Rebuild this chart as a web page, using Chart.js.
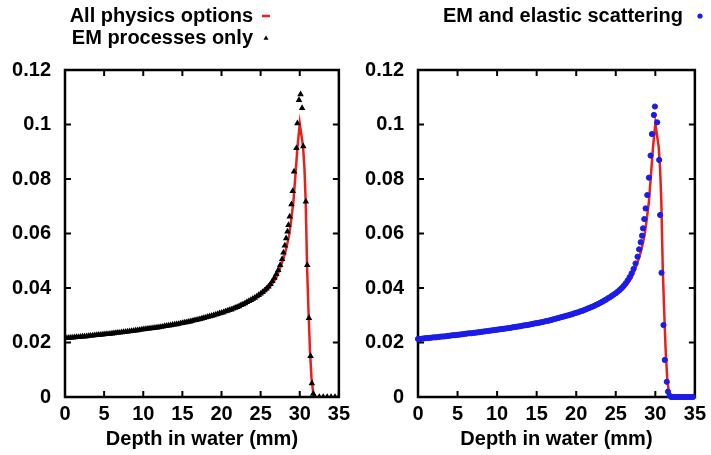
<!DOCTYPE html>
<html>
<head>
<meta charset="utf-8">
<script src="https://cdn.jsdelivr.net/npm/chart.js@4.4.1/dist/chart.umd.min.js"></script>
<style>
  body { margin: 0; background: #fff; }
  canvas { position: absolute; top: 0; }
</style>
</head>
<body>
<canvas id="leftChart" width="355" height="455" style="left:0"></canvas>
<canvas id="rightChart" width="356" height="455" style="left:355px"></canvas>
<script>
// tick labels
const xTicks = [0, 5, 10, 15, 20, 25, 30, 35];
const yTicks = [0, 0.02, 0.04, 0.06, 0.08, 0.1, 0.12];

// All physics options (red line, both panels)
const allDepth = [0, 2, 4, 6, 8, 10, 12, 14, 16, 18, 20, 21, 22, 23, 24, 25, 25.5, 26, 26.5, 27, 27.5,
  28, 28.3, 28.64, 28.9, 29.19, 29.48, 29.7, 30.0, 30.42, 30.6, 30.76, 30.93, 31.1,
  31.3, 31.5, 31.7, 31.85, 32];
const allDose = [0.0216, 0.0221, 0.0227, 0.0233, 0.0240, 0.0248, 0.0256, 0.0266, 0.0277, 0.0291, 0.0308,
  0.0318, 0.0329, 0.0342, 0.0357, 0.0375, 0.0386, 0.0399, 0.0416, 0.0437, 0.0474,
  0.0515, 0.0548, 0.0594, 0.0648, 0.0717, 0.0827, 0.0913, 0.1003, 0.0920, 0.0840, 0.0717, 0.0484, 0.0330,
  0.0175, 0.0070, 0.0020, 0.0003, 0];

// EM processes only (black triangles, left panel)
const emDepth = [0, 0.25, 0.5, 0.75, 1, 1.25, 1.5, 1.75, 2, 2.25, 2.5, 2.75, 3, 3.25, 3.5, 3.75,
  4, 4.25, 4.5, 4.75, 5, 5.25, 5.5, 5.75, 6, 6.25, 6.5, 6.75, 7, 7.25, 7.5, 7.75,
  8, 8.25, 8.5, 8.75, 9, 9.25, 9.5, 9.75, 10, 10.25, 10.5, 10.75, 11, 11.25, 11.5, 11.75,
  12, 12.25, 12.5, 12.75, 13, 13.25, 13.5, 13.75, 14, 14.25, 14.5, 14.75, 15, 15.25, 15.5, 15.75,
  16, 16.25, 16.5, 16.75, 17, 17.25, 17.5, 17.75, 18, 18.25, 18.5, 18.75, 19, 19.25, 19.5, 19.75,
  20, 20.25, 20.5, 20.75, 21, 21.25, 21.5, 21.75, 22, 22.25, 22.5, 22.75, 23, 23.25, 23.5, 23.75,
  24, 24.25, 24.5, 24.75, 25, 25.25, 25.5, 25.75, 26, 26.25, 26.5, 26.75,
  27, 27.25, 27.5, 27.75, 27.92, 28.09, 28.26, 28.43, 28.56, 28.72, 28.94, 29.1, 29.27, 29.57, 29.7,
  29.9, 30.1, 30.3, 30.45, 30.78, 30.96, 31.17, 31.38, 31.55, 31.72, 31.9, 32.5, 33, 33.5, 34, 34.5, 35];
const emDose = [0.0216, 0.0216, 0.0217, 0.0218, 0.0218, 0.0219, 0.0220, 0.0220, 0.0221, 0.0222, 0.0222, 0.0223,
  0.0224, 0.0225, 0.0225, 0.0226, 0.0227, 0.0228, 0.0228, 0.0229, 0.0230, 0.0231, 0.0231, 0.0232,
  0.0233, 0.0234, 0.0235, 0.0236, 0.0236, 0.0237, 0.0238, 0.0239, 0.0240, 0.0241, 0.0242, 0.0243,
  0.0244, 0.0245, 0.0246, 0.0247, 0.0248, 0.0249, 0.0250, 0.0251, 0.0252, 0.0253, 0.0254, 0.0255,
  0.0256, 0.0257, 0.0258, 0.0260, 0.0261, 0.0262, 0.0263, 0.0265, 0.0266, 0.0267, 0.0268, 0.0270,
  0.0271, 0.0273, 0.0274, 0.0276, 0.0277, 0.0279, 0.0281, 0.0282, 0.0284, 0.0286, 0.0288, 0.0290,
  0.0292, 0.0294, 0.0296, 0.0298, 0.0300, 0.0302, 0.0304, 0.0307, 0.0309, 0.0311, 0.0314, 0.0316,
  0.0319, 0.0321, 0.0324, 0.0327, 0.0330, 0.0333, 0.0337, 0.0340, 0.0344, 0.0348, 0.0352, 0.0356,
  0.0360, 0.0364, 0.0369, 0.0374, 0.0379, 0.0385, 0.0391, 0.0398, 0.0405, 0.0414, 0.0425, 0.0437,
  0.0451, 0.0466, 0.0484, 0.0506, 0.0530, 0.0556, 0.0582, 0.0607, 0.0631, 0.0662, 0.0707, 0.0756,
  0.0827, 0.0913, 0.1004, 0.1090, 0.1111, 0.1060, 0.0920, 0.0717, 0.0484, 0.0290, 0.0150, 0.0050,
  0.0012, 0, 0, 0, 0, 0, 0, 0];

// EM and elastic scattering (blue dots, right panel)
const elDepth = [0, 0.25, 0.5, 0.75, 1, 1.25, 1.5, 1.75, 2, 2.25, 2.5, 2.75, 3, 3.25, 3.5, 3.75,
  4, 4.25, 4.5, 4.75, 5, 5.25, 5.5, 5.75, 6, 6.25, 6.5, 6.75, 7, 7.25, 7.5, 7.75,
  8, 8.25, 8.5, 8.75, 9, 9.25, 9.5, 9.75, 10, 10.25, 10.5, 10.75, 11, 11.25, 11.5, 11.75,
  12, 12.25, 12.5, 12.75, 13, 13.25, 13.5, 13.75, 14, 14.25, 14.5, 14.75, 15, 15.25, 15.5, 15.75,
  16, 16.25, 16.5, 16.75, 17, 17.25, 17.5, 17.75, 18, 18.25, 18.5, 18.75, 19, 19.25, 19.5, 19.75,
  20, 20.25, 20.5, 20.75, 21, 21.25, 21.5, 21.75, 22, 22.25, 22.5, 22.75, 23, 23.25, 23.5, 23.75,
  24, 24.25, 24.5, 24.75, 25, 25.25, 25.5, 25.75, 26, 26.25, 26.5, 26.75,
  27, 27.25, 27.5, 27.75, 27.95, 28.15, 28.32, 28.44, 28.6, 28.77, 28.98, 29.19, 29.4, 29.57, 29.82,
  29.95, 30.24, 30.49, 30.61, 30.78, 31.03, 31.2, 31.45, 31.6, 31.8, 32, 32.25, 32.5, 32.75, 33,
  33.25, 33.5, 33.75, 34, 34.25, 34.5, 34.75, 35];
const elDose = [0.0213, 0.0213, 0.0214, 0.0215, 0.0216, 0.0216, 0.0217, 0.0218, 0.0219, 0.0219, 0.0220, 0.0221,
  0.0222, 0.0222, 0.0223, 0.0224, 0.0225, 0.0226, 0.0227, 0.0227, 0.0228, 0.0229, 0.0230, 0.0231,
  0.0232, 0.0233, 0.0234, 0.0234, 0.0235, 0.0236, 0.0237, 0.0238, 0.0239, 0.0240, 0.0241, 0.0242,
  0.0243, 0.0244, 0.0245, 0.0246, 0.0247, 0.0248, 0.0249, 0.0250, 0.0251, 0.0252, 0.0253, 0.0254,
  0.0256, 0.0257, 0.0258, 0.0259, 0.0260, 0.0262, 0.0263, 0.0264, 0.0265, 0.0267, 0.0268, 0.0270,
  0.0271, 0.0272, 0.0274, 0.0275, 0.0277, 0.0279, 0.0280, 0.0282, 0.0284, 0.0286, 0.0288, 0.0290,
  0.0292, 0.0294, 0.0296, 0.0298, 0.0300, 0.0302, 0.0304, 0.0307, 0.0309, 0.0311, 0.0314, 0.0316,
  0.0319, 0.0322, 0.0325, 0.0328, 0.0331, 0.0334, 0.0338, 0.0341, 0.0345, 0.0349, 0.0353, 0.0357,
  0.0362, 0.0366, 0.0371, 0.0376, 0.0381, 0.0387, 0.0393, 0.0400, 0.0408, 0.0417, 0.0428, 0.0440,
  0.0454, 0.0470, 0.0490, 0.0515, 0.0542, 0.0568, 0.0592, 0.0619, 0.0653, 0.0692, 0.0741, 0.0805,
  0.0886, 0.0965, 0.1035, 0.1066, 0.1008, 0.0870, 0.0668, 0.0456, 0.0264, 0.0136, 0.0056, 0.0020,
  0.0005, 0, 0, 0, 0, 0, 0, 0, 0, 0, 0, 0, 0];

const pairs = (xs, ys) => xs.map((x, i) => ({ x: x, y: ys[i] }));
const FONT = '"Liberation Sans", Arial, Helvetica, sans-serif';
const FSIZE = 20;
const RED = '#e8201c';
const BLUE = '#1c1ce8';

// box round the plot with inward ticks on all four sides
const framePlugin = {
  id: 'frame',
  beforeDatasetsDraw(chart) {
    const { ctx, chartArea: a, scales: { x, y } } = chart;
    ctx.save();
    ctx.strokeStyle = '#000';
    ctx.lineWidth = 2.5;
    ctx.strokeRect(a.left, a.top, a.right - a.left, a.bottom - a.top);
    ctx.lineWidth = 2;
    ctx.beginPath();
    x.ticks.forEach(t => {
      const px = x.getPixelForValue(t.value);
      ctx.moveTo(px, a.bottom); ctx.lineTo(px, a.bottom - 6);
      ctx.moveTo(px, a.top); ctx.lineTo(px, a.top + 6);
    });
    y.ticks.forEach(t => {
      const py = y.getPixelForValue(t.value);
      ctx.moveTo(a.left, py); ctx.lineTo(a.left + 6, py);
      ctx.moveTo(a.right, py); ctx.lineTo(a.right - 6, py);
    });
    ctx.stroke();
    ctx.restore();
  }
};

// gnuplot style key: text right aligned, sample to its right
const keyPlugin = {
  id: 'key',
  afterDraw(chart, args, opts) {
    const ctx = chart.ctx;
    ctx.save();
    ctx.font = 'bold ' + FSIZE + 'px ' + FONT;
    ctx.textAlign = 'right';
    ctx.textBaseline = 'middle';
    opts.items.forEach(it => {
      ctx.fillStyle = '#000';
      ctx.fillText(it.text, opts.textRight, it.y);
      const mx = opts.markX;
      ctx.fillStyle = it.color;
      ctx.strokeStyle = it.color;
      ctx.beginPath();
      if (it.marker === 'line') {
        ctx.lineWidth = 2.5;
        ctx.moveTo(mx - 4, it.y); ctx.lineTo(mx + 4, it.y);
        ctx.stroke();
      } else if (it.marker === 'triangle') {
        ctx.moveTo(mx, it.y - 2.5); ctx.lineTo(mx + 2.5, it.y + 1.8); ctx.lineTo(mx - 2.5, it.y + 1.8);
        ctx.closePath(); ctx.fill();
      } else {
        ctx.arc(mx, it.y, 2.6, 0, Math.PI * 2); ctx.fill();
      }
    });
    ctx.restore();
  }
};

function makeOptions(rightPad, yWidth, keyOpts) {
  const font = { family: FONT, size: FSIZE, weight: 'bold' };
  return {
    responsive: false,
    animation: false,
    devicePixelRatio: 1,
    layout: { padding: { left: 0, right: rightPad, top: 70, bottom: 0 } },
    plugins: { legend: { display: false }, tooltip: { enabled: false }, key: keyOpts },
    scales: {
      x: {
        type: 'linear', min: 0, max: 35,
        afterFit: s => { s.height = 58; },
        afterBuildTicks: s => { s.ticks = xTicks.map(v => ({ value: v })); },
        grid: { display: false, drawTicks: false },
        border: { display: false },
        ticks: { color: '#000', padding: 5, maxRotation: 0, font: font },
        title: { display: true, text: 'Depth in water (mm)', color: '#000', padding: { top: 0, bottom: 4 }, font: font }
      },
      y: {
        type: 'linear', min: 0, max: 0.12,
        afterFit: s => { s.width = yWidth; },
        afterBuildTicks: s => { s.ticks = yTicks.map(v => ({ value: v })); },
        grid: { display: false, drawTicks: false },
        border: { display: false },
        ticks: { color: '#000', padding: 14, callback: v => String(+v.toFixed(2)), font: font }
      }
    }
  };
}

new Chart(document.getElementById('leftChart').getContext('2d'), {
  type: 'scatter',
  data: {
    datasets: [{
      label: 'EM processes only',
      data: pairs(emDepth, emDose),
      pointStyle: 'triangle',
      pointRadius: 2.6,
      borderWidth: 1.2,
      borderColor: '#000',
      backgroundColor: '#000',
      showLine: false
    }, {
      label: 'All physics options',
      data: pairs(allDepth, allDose),
      showLine: true,
      borderColor: RED,
      borderWidth: 2.5,
      pointRadius: 0,
      tension: 0
    }]
  },
  options: makeOptions(13, 65, {
    textRight: 253, markX: 266,
    items: [
      { text: 'All physics options', marker: 'line', color: RED, y: 16 },
      { text: 'EM processes only', marker: 'triangle', color: '#000', y: 38 }
    ]
  }),
  plugins: [framePlugin, keyPlugin]
});

new Chart(document.getElementById('rightChart').getContext('2d'), {
  type: 'scatter',
  data: {
    datasets: [{
      label: 'EM and elastic scattering',
      data: pairs(elDepth, elDose),
      pointStyle: 'circle',
      pointRadius: 2.6,
      borderWidth: 1,
      borderColor: BLUE,
      backgroundColor: BLUE,
      showLine: false,
      clip: false
    }, {
      label: 'All physics options',
      data: pairs(allDepth, allDose),
      showLine: true,
      borderColor: RED,
      borderWidth: 2.5,
      pointRadius: 0,
      tension: 0
    }]
  },
  options: makeOptions(14, 63, {
    textRight: 328, markX: 345,
    items: [
      { text: 'EM and elastic scattering', marker: 'dot', color: BLUE, y: 16 }
    ]
  }),
  plugins: [framePlugin, keyPlugin]
});
</script>
</body>
</html>
